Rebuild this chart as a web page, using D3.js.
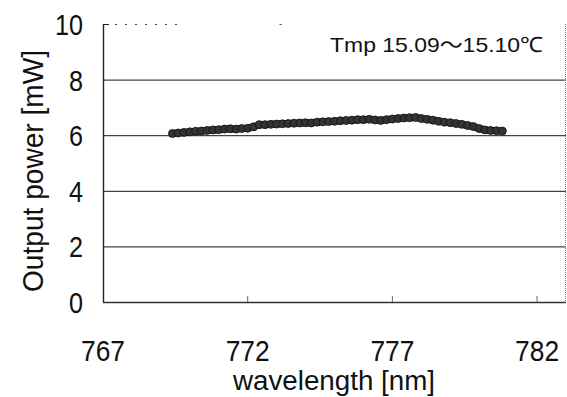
<!DOCTYPE html>
<html><head><meta charset="utf-8">
<script src="https://cdn.jsdelivr.net/npm/d3@7"></script>
<style>body{margin:0;background:#fff}svg{display:block}</style>
</head><body>
<svg id="c" width="567" height="397"></svg>
<script>
const wavelengths = [769.4,769.6,769.8,770.0,770.2,770.4,770.6,770.8,771.0,771.2,771.4,771.6,771.8,772.0,772.2,772.4,772.6,772.8,773.0,773.2,773.4,773.6,773.8,774.0,774.2,774.4,774.6,774.8,775.0,775.2,775.4,775.6,775.8,776.0,776.2,776.4,776.6,776.8,777.0,777.2,777.4,777.6,777.8,778.0,778.2,778.4,778.6,778.8,779.0,779.2,779.4,779.6,779.8,780.0,780.2,780.4,780.6,780.8];
const power = [6.06,6.08,6.10,6.12,6.14,6.15,6.17,6.19,6.20,6.22,6.23,6.22,6.24,6.25,6.30,6.38,6.38,6.39,6.40,6.41,6.42,6.43,6.44,6.45,6.44,6.47,6.48,6.49,6.50,6.52,6.53,6.54,6.56,6.56,6.57,6.55,6.53,6.56,6.58,6.60,6.62,6.63,6.64,6.60,6.57,6.54,6.50,6.47,6.45,6.42,6.39,6.35,6.31,6.24,6.19,6.17,6.16,6.15];
const xTicks = [767,772,777,782];
const yTicks = [0,2,4,6,8,10];
const annotationParts = ["Tmp 15.09", "～", "15.10℃"];
const xTitle = "wavelength [nm]";
const yTitle = "Output power [mW]";

const svg = d3.select("#c");
const L=103, R=566, T=24, B=302;
const x = d3.scaleLinear().domain([767,783]).range([L,R]);
const y = d3.scaleLinear().domain([0,10]).range([B,T]);
const font = "'Liberation Sans', Arial, sans-serif";

// gridlines
svg.append("g").selectAll("line").data(yTicks.filter(d=>d>0&&d<10)).join("line")
  .attr("x1",L).attr("x2",R).attr("y1",d=>y(d)+0.5).attr("y2",d=>y(d)+0.5)
  .attr("stroke","#444").attr("stroke-width",1.2);

// axes borders
svg.append("line").attr("x1",L+0.5).attr("x2",L+0.5).attr("y1",T).attr("y2",B+0.5).attr("stroke","#222").attr("stroke-width",1.4);
svg.append("line").attr("x1",L).attr("x2",R).attr("y1",B+0.5).attr("y2",B+0.5).attr("stroke","#333").attr("stroke-width",1.4);
svg.append("line").attr("x1",R-0.5).attr("x2",R-0.5).attr("y1",T).attr("y2",B+0.5).attr("stroke","#777").attr("stroke-width",1).attr("stroke-dasharray","1,1");
svg.append("line").attr("x1",L).attr("x2",L+6).attr("y1",T+0.5).attr("y2",T+0.5).attr("stroke","#222");
svg.append("line").attr("x1",L+12).attr("x2",L+82).attr("y1",T+0.5).attr("y2",T+0.5).attr("stroke","#444").attr("stroke-dasharray","2,8");
svg.append("line").attr("x1",x(773.1)).attr("x2",x(773.1)+2).attr("y1",T+0.5).attr("y2",T+0.5).attr("stroke","#444");

// x ticks (inward)
svg.append("g").selectAll("line").data(xTicks.slice(1)).join("line")
  .attr("x1",d=>x(d)).attr("x2",d=>x(d)).attr("y1",B).attr("y2",B-6)
  .attr("stroke","#666").attr("stroke-width",1);

// x tick labels
svg.append("g").selectAll("text").data(xTicks).join("text")
  .attr("x",d=>x(d)-22).attr("y",361)
  .attr("textLength",44).attr("lengthAdjust","spacingAndGlyphs")
  .attr("font-family",font).attr("font-size",30).attr("fill","#111").text(d=>d);

// y tick labels
svg.append("g").selectAll("text").data(yTicks).join("text")
  .attr("x",d=>d>=10?55:69).attr("y",d=>y(d)+11)
  .attr("textLength",d=>d>=10?28:14).attr("lengthAdjust","spacingAndGlyphs")
  .attr("font-family",font).attr("font-size",30).attr("fill","#111").text(d=>d);

// titles
svg.append("text").attr("x",233).attr("y",390)
  .attr("textLength",202).attr("lengthAdjust","spacingAndGlyphs")
  .attr("font-family",font).attr("font-size",27).attr("fill","#111").text(xTitle);
svg.append("text").attr("transform","translate(43,292) rotate(-90)")
  .attr("textLength",242).attr("lengthAdjust","spacingAndGlyphs")
  .attr("font-family",font).attr("font-size",30).attr("fill","#111").text(yTitle);

const ann = svg.append("text").attr("x",330).attr("y",52)
  .attr("textLength",213).attr("lengthAdjust","spacingAndGlyphs")
  .attr("font-family",font).attr("font-size",21).attr("fill","#111");
ann.selectAll("tspan").data(annotationParts).join("tspan")
  .attr("font-family",(d,i)=>i===1?"'Noto Sans CJK JP', sans-serif":font)
  .text(d=>d);

// data markers
const data = wavelengths.map((w,i)=>({w, p:power[i]}));
svg.append("path").datum(data)
  .attr("d",d3.line().x(d=>x(d.w)).y(d=>y(d.p)))
  .attr("fill","none").attr("stroke","#2a2a2a").attr("stroke-width",7).attr("stroke-linecap","round");
svg.append("g").selectAll("circle").data(data).join("circle")
  .attr("cx",d=>x(d.w)).attr("cy",d=>y(d.p)).attr("r",4)
  .attr("fill","#333").attr("stroke","#111").attr("stroke-width",0.8);
</script>
</body></html>
